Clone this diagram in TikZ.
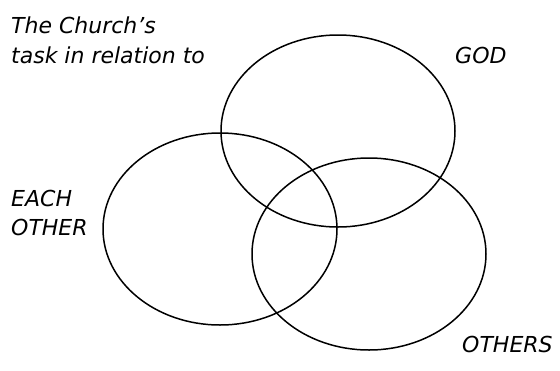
\documentclass[tikz,border=0pt]{standalone}
\usepackage{fontspec}
\setmainfont{DejaVu Sans}
\begin{document}
\begin{tikzpicture}[x=1pt,y=-1pt,
  ring/.style={draw=black,line width=1.5pt},
  lbl/.style={inner sep=0pt,font=\itshape\fontsize{22}{30}\selectfont,align=left}]
\useasboundingbox (0,0) rectangle (560,370);
\draw[ring] (338,131) ellipse[x radius=117,y radius=96];
\draw[ring] (220,229) ellipse[x radius=117,y radius=96];
\draw[ring] (369,254) ellipse[x radius=117,y radius=96];
\node[lbl,anchor=base west] (title) at (11,33) {The Church's};
\node[lbl,anchor=base west] (title2) at (11,63) {task in relation to};
\node[lbl,anchor=base west] (god) at (455,63) {GOD};
\node[lbl,anchor=base west] (each) at (11,206) {EACH};
\node[lbl,anchor=base west] (other) at (11,235) {OTHER};
\node[lbl,anchor=base west] (others) at (462,352) {OTHERS};
\end{tikzpicture}
\end{document}
